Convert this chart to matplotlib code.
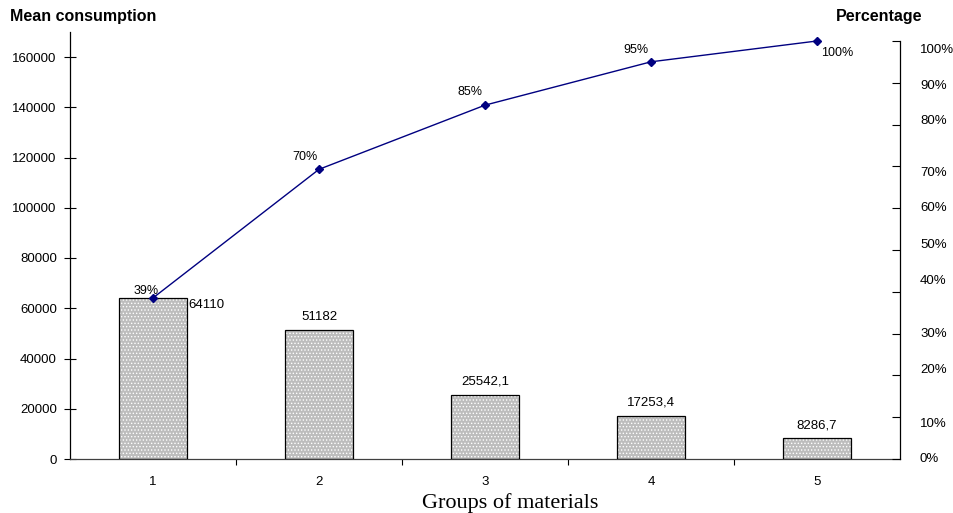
import matplotlib
matplotlib.use("Agg")
import matplotlib.pyplot as plt
import matplotlib.transforms as mtransforms
import numpy as np

plt.rcParams['font.family'] = ['Liberation Sans', 'DejaVu Sans']
plt.rcParams['hatch.linewidth'] = 0.6

# data
groups = ["1", "2", "3", "4", "5"]
consumption = [64110, 51182, 25542.1, 17253.4, 8286.7]
cum_labels = ["39%", "70%", "85%", "95%", "100%"]
left_ticks = [0, 20000, 40000, 60000, 80000, 100000, 120000, 140000, 160000]
pct_ticks = [0, 10, 20, 30, 40, 50, 60, 70, 80, 90, 100]
pct_tick_labels = ["0%", "10%", "20%", "30%", "40%", "50%", "60%", "70%", "80%", "90%", "100%"]

cum = np.cumsum(consumption)
total = cum[-1]
x = np.arange(1, len(groups) + 1)

fig = plt.figure(figsize=(9.54, 5.13), dpi=100)
ax = fig.add_axes([70 / 954, 54 / 513, 830 / 954, 427 / 513])

# bars: grey with white dots, then black outline on top
ax.bar(x, consumption, width=0.405, color='#bdbdbd', edgecolor='white',
       linewidth=0, hatch='.....', zorder=2)
ax.bar(x, consumption, width=0.405, fill=False, edgecolor='black',
       linewidth=0.9, zorder=3)

# cumulative line
ax.plot(x, cum, color='#000080', lw=1, marker='D', ms=4, zorder=4)

ax.set_xlim(0.5, len(groups) + 0.5)
ax.set_ylim(0, 160000 * 427 / 402)
ax.set_yticks(left_ticks)
ax.set_yticklabels([str(v) for v in left_ticks])
ax.tick_params(axis='y', direction='inout', length=9, width=0.8, labelsize=9.5, pad=5)
ax.set_xticks(x)
ax.set_xticklabels(groups)
ax.tick_params(axis='x', which='major', length=0, labelsize=9.5, pad=12)
ax.set_xticks(x[:-1] + 0.5, minor=True)
ax.tick_params(axis='x', which='minor', direction='out', length=4, width=0.8)
for s in ['top', 'right']:
    ax.spines[s].set_visible(False)
ax.spines['left'].set_linewidth(0.9)
ax.spines['bottom'].set_linewidth(0.9)
ax.spines['bottom'].set_color('#404040')

# value labels on bars
for i, v in enumerate(consumption):
    txt = f"{v:g}".replace('.', ',')
    if i == 0:
        ax.annotate(txt, (x[i] + 0.2025, v), xytext=(2, -7), textcoords='offset pixels',
                    ha='left', va='center', fontsize=9.5, zorder=5)
    else:
        ax.annotate(txt, (x[i], v), xytext=(0, 7), textcoords='offset pixels',
                    ha='center', va='bottom', fontsize=9.5, zorder=5)

# percentage labels on the line
offsets = [(-7, 7), (-14, 12), (-15, 13), (-15, 12), (20, -12)]
for i, (lab, off) in enumerate(zip(cum_labels, offsets)):
    ax.annotate(lab, (x[i], cum[i]), xytext=off, textcoords='offset pixels',
                ha='center', va='center', fontsize=9, zorder=5)

# right percentage axis
ax2 = ax.twinx()
ax2.set_ylim(0, ax.get_ylim()[1] / total * 100)
for s in ['top', 'left', 'bottom']:
    ax2.spines[s].set_visible(False)
ax2.spines['right'].set_bounds(0, 100)
ax2.spines['right'].set_linewidth(0.9)
ax2.set_yticks(pct_ticks)
ax2.set_yticklabels([])
ax2.tick_params(axis='y', direction='in', length=6, width=0.8)

pct_label_pos = [0, 8.4, 21.3, 30.0, 42.7, 51.1, 60.0, 68.3, 80.8, 89.2, 97.8]
trans = mtransforms.blended_transform_factory(ax2.transAxes, ax2.transData)
for lab, pos in zip(pct_tick_labels, pct_label_pos):
    ax2.text(1 + 20 / 830, pos, lab, transform=trans, ha='left', va='center',
             fontsize=9.5, clip_on=False)

# titles
fig.text(10 / 954, 1 - 17 / 513, "Mean consumption", ha='left', va='center',
         fontsize=11.5, fontweight='bold')
fig.text(879 / 954, 1 - 17 / 513, "Percentage", ha='center', va='center',
         fontsize=11.5, fontweight='bold')
fig.text(510 / 954, 1 - 503 / 513, "Groups of materials", ha='center', va='center',
         fontsize=16, family=['Liberation Serif', 'DejaVu Serif'])

fig.savefig("out.png", dpi=100)
